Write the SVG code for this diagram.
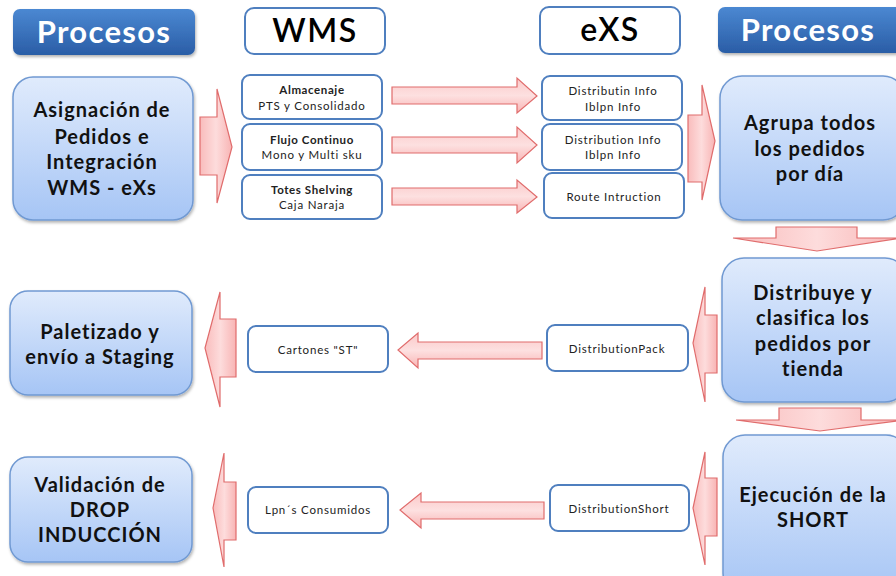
<svg xmlns="http://www.w3.org/2000/svg" width="896" height="576" viewBox="0 0 896 576">
<defs>
  <linearGradient id="hdr" x1="0" y1="0" x2="0" y2="1">
    <stop offset="0" stop-color="#4b88d2"/>
    <stop offset="1" stop-color="#2a5da6"/>
  </linearGradient>
  <linearGradient id="big" x1="0" y1="0" x2="0" y2="1">
    <stop offset="0" stop-color="#e0ebfc"/>
    <stop offset="1" stop-color="#a6c5f5"/>
  </linearGradient>
  <linearGradient id="arrH" x1="0" y1="0" x2="0" y2="1">
    <stop offset="0" stop-color="#fbc9c9"/>
    <stop offset="0.5" stop-color="#fde0e0"/>
    <stop offset="1" stop-color="#f8b4b4"/>
  </linearGradient>
  <linearGradient id="arrV" x1="0" y1="0" x2="1" y2="0">
    <stop offset="0" stop-color="#f9bcbc"/>
    <stop offset="0.5" stop-color="#fddcdc"/>
    <stop offset="1" stop-color="#f8b4b4"/>
  </linearGradient>
  <filter id="sh" x="-10%" y="-10%" width="130%" height="130%">
    <feDropShadow dx="1" dy="2" stdDeviation="1.5" flood-color="#000" flood-opacity="0.3"/>
  </filter>
</defs>
<style>
  .hdr { fill: url(#hdr); filter: url(#sh); }
  .hdrT { font-family: Lato, "Open Sans", sans-serif; font-weight: bold; font-size: 31px; letter-spacing: 1.3px; fill: #ffffff; text-anchor: middle; }
  .col { fill: #ffffff; stroke: #4f7fbf; stroke-width: 2; }
  .colT { font-family: Lato, "Open Sans", sans-serif; font-size: 32px; letter-spacing: 1.5px; fill: #000; text-anchor: middle; font-weight: 600; }
  .big { fill: url(#big); stroke: #7099d2; stroke-width: 1.5; filter: url(#sh); }
  .bigT { font-family: Lato, "Open Sans", sans-serif; font-weight: bold; font-size: 20px; letter-spacing: 1px; fill: #111; text-anchor: middle; }
  .sm { fill: #ffffff; stroke: #4f7fbf; stroke-width: 2; }
  .smT { font-family: Lato, "Open Sans", sans-serif; font-size: 11.5px; letter-spacing: 0.8px; fill: #222; text-anchor: middle; }
  .smB { font-weight: bold; letter-spacing: 0.6px; }
  .ah { fill: url(#arrH); stroke: #e06c6c; stroke-width: 1.2; stroke-linejoin: miter; }
  .av { fill: url(#arrV); stroke: #e06c6c; stroke-width: 1.2; stroke-linejoin: miter; }
</style>

<g id="connectors">
  <path class="av" d="M200,117 L217,117 L217,89 L232,147 L217,203 L217,175 L200,175 Z"/>
  <path class="ah" d="M392,87 L517,87 L517,78 L537,96 L517,113 L517,104 L392,104 Z"/>
  <path class="ah" d="M392,137 L517,137 L517,127 L537,145 L517,163 L517,153 L392,153 Z"/>
  <path class="ah" d="M392,188 L517,188 L517,180 L537,197 L517,213 L517,205 L392,205 Z"/>
  <path class="av" d="M688,115 L702,115 L702,85 L715,141 L702,200 L702,182 L688,182 Z"/>
  <path class="av" d="M776,227 L857,227 L857,238 L901,238 L817,251 L733,238 L776,238 Z"/>
  <path class="av" d="M779,408 L861,408 L861,420 L904,420 L820,431 L736,420 L779,420 Z"/>
  <path class="av" d="M717,315 L705,315 L705,287 L693,343 L705,402 L705,373 L717,373 Z"/>
  <path class="av" d="M717,478 L705,478 L705,452 L693,508 L705,565 L705,536 L717,536 Z"/>
  <path class="ah" d="M542,342 L418,342 L418,333 L398,350 L418,368 L418,359 L542,359 Z"/>
  <path class="ah" d="M544,502 L421,502 L421,493 L400,510 L421,528 L421,519 L544,519 Z"/>
  <path class="av" d="M236,319 L220,319 L220,292 L205,348 L220,407 L220,377 L236,377 Z"/>
  <path class="av" d="M236,482 L224,482 L224,453 L213,508 L224,567 L224,540 L236,540 Z"/>
</g>

<g id="hdr-procesos-left">
  <rect class="hdr" x="13" y="9" width="182" height="46" rx="7"/>
  <text class="hdrT" x="104" y="43">Procesos</text>
</g>
<g id="hdr-wms">
  <rect class="col" x="245" y="8" width="140" height="46" rx="9"/>
  <text class="colT" x="315" y="42">WMS</text>
</g>
<g id="hdr-exs">
  <rect class="col" x="540" y="7" width="140" height="47" rx="9"/>
  <text class="colT" x="610" y="41">eXS</text>
</g>
<g id="hdr-procesos-right">
  <rect class="hdr" x="718" y="7" width="185" height="46" rx="7"/>
  <text class="hdrT" x="808" y="41">Procesos</text>
</g>

<g id="asignacion">
  <rect class="big" x="13" y="77" width="180" height="143" rx="20"/>
  <text class="bigT" x="102" y="117">Asignación  de</text>
  <text class="bigT" x="102" y="144">Pedidos e</text>
  <text class="bigT" x="102" y="169">Integración</text>
  <text class="bigT" x="102" y="195">WMS  - eXs</text>
</g>

<g id="almacenaje">
  <rect class="sm" x="242" y="75" width="140" height="44" rx="8"/>
  <text class="smT smB" x="312" y="94">Almacenaje</text>
  <text class="smT" x="312" y="110">PTS y Consolidado</text>
</g>
<g id="flujo">
  <rect class="sm" x="242" y="124" width="140" height="46" rx="8"/>
  <text class="smT smB" x="312" y="144">Flujo Continuo</text>
  <text class="smT" x="312" y="159">Mono y Multi sku</text>
</g>
<g id="totes">
  <rect class="sm" x="242" y="175" width="140" height="44" rx="8"/>
  <text class="smT smB" x="312" y="194">Totes Shelving</text>
  <text class="smT" x="312" y="209">Caja Naraja</text>
</g>

<g id="exs-1">
  <rect class="sm" x="542" y="76" width="140" height="44" rx="8"/>
  <text class="smT" x="613" y="95">Distributin Info</text>
  <text class="smT" x="613" y="111">Iblpn Info</text>
</g>
<g id="exs-2">
  <rect class="sm" x="542" y="124" width="140" height="46" rx="8"/>
  <text class="smT" x="613" y="144">Distribution Info</text>
  <text class="smT" x="613" y="159">Iblpn Info</text>
</g>
<g id="exs-3">
  <rect class="sm" x="544" y="173" width="140" height="45" rx="8"/>
  <text class="smT" x="614" y="201">Route Intruction</text>
</g>

<g id="agrupa">
  <rect class="big" x="720" y="76" width="185" height="144" rx="22"/>
  <text class="bigT" x="810" y="130">Agrupa todos</text>
  <text class="bigT" x="810" y="156">los pedidos</text>
  <text class="bigT" x="810" y="181">por día</text>
</g>

<g id="distribuye">
  <rect class="big" x="722" y="258" width="185" height="144" rx="22"/>
  <text class="bigT" x="813" y="300">Distribuye y</text>
  <text class="bigT" x="813" y="325">clasifica los</text>
  <text class="bigT" x="813" y="351">pedidos por</text>
  <text class="bigT" x="813" y="376">tienda</text>
</g>

<g id="ejecucion">
  <rect class="big" x="723" y="435" width="185" height="160" rx="22"/>
  <text class="bigT" x="813" y="502">Ejecución de la</text>
  <text class="bigT" x="813" y="527">SHORT</text>
</g>

<g id="distribution-pack">
  <rect class="sm" x="547" y="325" width="141" height="46" rx="8"/>
  <text class="smT" x="617" y="353">DistributionPack</text>
</g>
<g id="distribution-short">
  <rect class="sm" x="550" y="485" width="139" height="46" rx="8"/>
  <text class="smT" x="619" y="513">DistributionShort</text>
</g>

<g id="cartones">
  <rect class="sm" x="248" y="326" width="140" height="46" rx="8"/>
  <text class="smT" x="318" y="354">Cartones &quot;ST&quot;</text>
</g>
<g id="lpn">
  <rect class="sm" x="248" y="487" width="140" height="46" rx="8"/>
  <text class="smT" x="318" y="514">Lpn´s Consumidos</text>
</g>

<g id="paletizado">
  <rect class="big" x="10" y="291" width="182" height="104" rx="18"/>
  <text class="bigT" x="100" y="339">Paletizado y</text>
  <text class="bigT" x="100" y="364">envío a Staging</text>
</g>

<g id="validacion">
  <rect class="big" x="10" y="457" width="182" height="105" rx="18"/>
  <text class="bigT" x="100" y="492">Validación de</text>
  <text class="bigT" x="100" y="517">DROP</text>
  <text class="bigT" x="100" y="542">INDUCCIÓN</text>
</g>
</svg>
